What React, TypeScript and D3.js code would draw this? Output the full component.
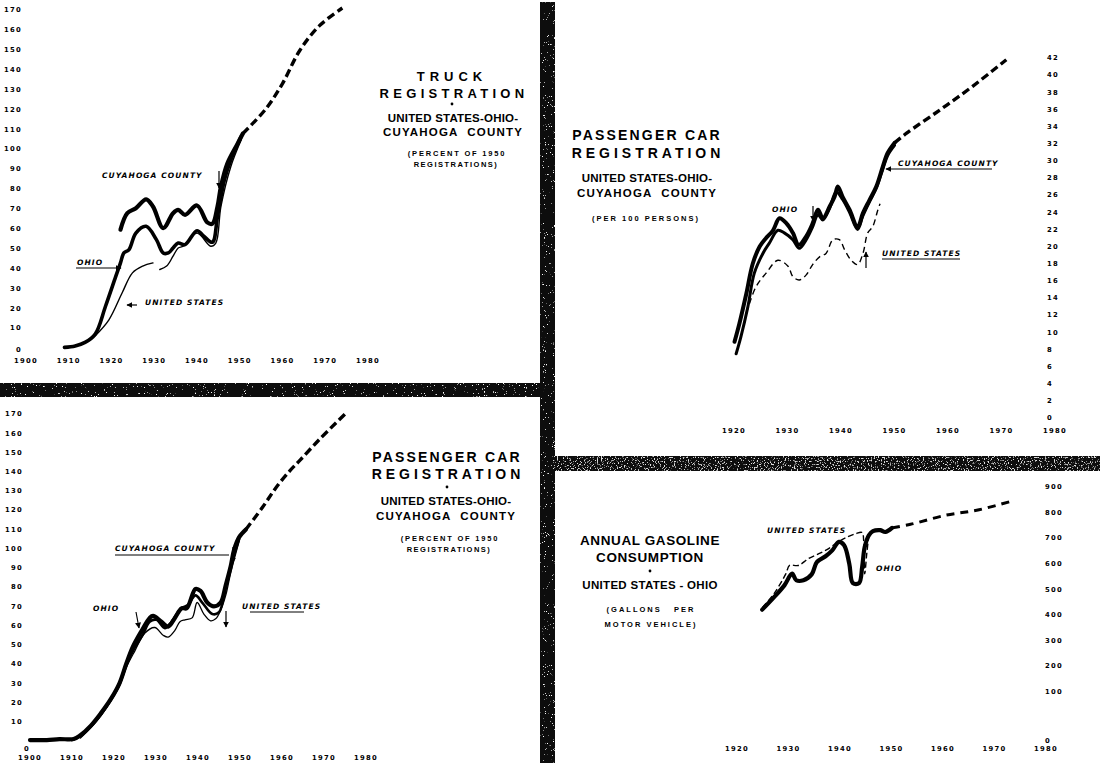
import React from 'react';
import * as d3 from 'd3';

type Pt = [number, number];

// truck registration, percent of 1950 registrations
const truckCuyahoga: Pt[] = [
  [1922.1, 59.5], [1923.7, 67.8], [1925.7, 70.3], [1928.1, 74.8], [1929.7, 71.2],
  [1932.1, 60.3], [1934.4, 67.8], [1935.6, 69.5], [1937.2, 67], [1940, 71.7],
  [1942.4, 63.2], [1943.6, 62.5], [1944.8, 71.2], [1945.6, 81.2], [1947.1, 92.8],
  [1949.5, 102.8], [1950.7, 107.8],
];
const truckOhio: Pt[] = [
  [1909, 0.3], [1911.5, 1], [1913.8, 2.8], [1916.2, 7], [1918.6, 21], [1921, 36],
  [1922.1, 42.8], [1922.9, 47.8], [1924.1, 49.5], [1925.7, 57.8], [1928.1, 61.2],
  [1930.5, 54.5], [1932.1, 47.8], [1933.3, 47.8], [1934.4, 50.3], [1935.6, 52.8],
  [1937.2, 52], [1940, 59], [1941.6, 56.2], [1943.6, 53.2], [1944.8, 66.2],
  [1946.4, 84.5], [1947.9, 94.5], [1950.3, 106.2],
];
const truckUS: Pt[] = [
  [1916.2, 6.2], [1919.4, 14.2], [1922.5, 27.8], [1924.9, 37.8], [1927.3, 41.2],
  [1929.7, 42.8], [1930.5, NaN], [1931.3, 39.5], [1932.9, 41.2], [1934.4, 46.2],
  [1935.6, 50.3], [1936.8, 51.2], [1940, 57.8], [1943.2, 51.2], [1944.4, 52.8],
  [1945.6, 71.2], [1947.9, 91.2], [1950.3, 104.5],
];
const truckProjection: Pt[] = [
  [1950.7, 107.8], [1956, 120], [1960, 133], [1964, 149.5], [1968.6, 162], [1974, 171],
];

// passenger cars per 100 persons
const perOhio: Pt[] = [
  [1920.1, 8.9], [1921, 11], [1922.3, 14.5], [1923.5, 18], [1924.8, 20], [1926, 21],
  [1927.3, 21.9], [1928.5, 23.3], [1929.8, 22.7], [1931, 21.6], [1932.1, 20.2],
  [1933.5, 21.2], [1934.7, 22.7], [1935.7, 24.3], [1936.6, 23.3], [1937.9, 24.7],
  [1938.8, 25.8], [1939.4, 27], [1940.3, 25.8], [1941.6, 24.3], [1943.1, 22.3],
  [1944.1, 23.9], [1945.3, 25.4], [1946.6, 27], [1947.8, 29.3], [1948.7, 30.9], [1950, 32.1],
];
const perCuyahoga: Pt[] = [
  [1920.4, 7.5], [1921.3, 9.5], [1922.6, 13], [1923.8, 16.9], [1925.4, 19.2],
  [1926.6, 20.4], [1928.2, 21.9], [1929.4, 21.6], [1931, 20.8], [1932.2, 19.8],
  [1933.5, 20.8], [1934.7, 22.3], [1935.7, 23.7], [1936.6, 23.1], [1937.9, 24.5],
  [1939.1, 26.4], [1940.3, 25.5], [1941.6, 24], [1943.1, 22], [1944.1, 23.6],
  [1945.3, 25.2], [1946.6, 26.8], [1947.8, 29], [1948.7, 30.6], [1950, 31.8],
];
const perUS: Pt[] = [
  [1922.3, 12.2], [1924.1, 15.3], [1926, 16.9], [1928.2, 18.4], [1930.1, 17.7],
  [1931, 16.5], [1932.2, 16.1], [1933.5, 16.7], [1934.7, 17.9], [1936, 18.8],
  [1937.2, 19.2], [1938.5, 20.8], [1939.7, 20.8], [1940.7, 19.6], [1941.9, 18.4],
  [1943.1, 17.9], [1944.1, 19.2], [1945, 21.6], [1945.9, 22.3], [1946.9, 24.3], [1947.3, 25],
];
const perProjection: Pt[] = [
  [1950, 32.1], [1952.2, 33.2], [1958.4, 35.9], [1964.6, 38.7], [1970.9, 41.8],
];

// passenger car registration, percent of 1950 registrations
const carCuyahoga: Pt[] = [
  [1900, 0.5], [1904, 0.5], [1907, 1], [1910.4, 1], [1912, 3], [1914.5, 8], [1916.9, 14.5],
  [1919.3, 22], [1921.3, 30], [1922.9, 40], [1924.5, 49], [1926.5, 57], [1928.5, 64],
  [1929.3, 65], [1931.3, 62], [1932.9, 59.5], [1934.5, 64], [1936.1, 69], [1937.3, 69],
  [1939.4, 79], [1940.6, 78], [1942.2, 72], [1943.8, 70], [1945.4, 72], [1946.6, 81],
  [1947.8, 91], [1948.6, 99.5], [1949.8, 106], [1951.4, 110],
];
const carOhio: Pt[] = [
  [1910, 0.5], [1912, 2.5], [1914.5, 7.5], [1917, 14], [1919.5, 22.5], [1921.5, 31],
  [1923, 40], [1924.8, 48], [1926.8, 55], [1928.5, 62], [1930.1, 63], [1932.1, 58.7],
  [1933.7, 62], [1936, 69], [1937.5, 70.5], [1939.4, 75.7], [1941, 72], [1943.4, 66],
  [1945, 67], [1946.6, 80], [1947.8, 91], [1949.8, 105],
];
const carUS: Pt[] = [
  [1912, 1.5], [1914.5, 7], [1917, 13.5], [1919.5, 21.5], [1921.5, 29.5], [1923, 38.5],
  [1925, 47], [1927.3, 56], [1929.7, 59], [1931.7, 55], [1932.9, 54], [1934.5, 57.5],
  [1935.7, 62], [1936.9, 63], [1938.6, 64], [1939.8, 72], [1941.4, 66], [1943, 62.5],
  [1944.2, 63.5], [1945.4, 68], [1946.6, 75.7], [1947.8, 87.6], [1949.8, 104],
];
const carProjection: Pt[] = [
  [1951.4, 110], [1955.4, 121.6], [1958.6, 131.8], [1961.8, 140.3], [1964.3, 146],
  [1969, 157], [1975, 170],
];

// annual gasoline consumption, gallons per motor vehicle
const gasOhio: Pt[] = [
  [1924.9, 420], [1927.2, 469], [1929.2, 515], [1930.7, 561], [1931.5, 535],
  [1932.9, 535], [1934.5, 558], [1935.5, 606], [1937.2, 629], [1938.5, 652],
  [1939.8, 685], [1940.8, 672], [1941.8, 600], [1942.5, 524], [1943.7, 524],
  [1944.3, 587], [1944.8, 665], [1945.6, 711], [1946.4, 727], [1947.8, 731],
  [1948.8, 724], [1950.1, 740],
];
const gasUS: Pt[] = [
  [1924.9, 428], [1927.2, 483], [1929.5, 561], [1930.2, 593], [1931.9, 593],
  [1933.9, 620], [1935.9, 639], [1937.8, 659], [1939.6, 685], [1941.5, 705],
  [1943, 717], [1944.3, 722], [1944.6, 690], [1944.8, 560], [1945.2, 640], [1945.6, 711],
];
const gasProjection: Pt[] = [
  [1950.1, 740], [1953.7, 754], [1960.4, 789], [1967, 811], [1973.9, 848],
];

const yearsFrom1900 = [1900, 1910, 1920, 1930, 1940, 1950, 1960, 1970, 1980];
const yearsFrom1920 = [1920, 1930, 1940, 1950, 1960, 1970, 1980];
const percentTicks = [0, 10, 20, 30, 40, 50, 60, 70, 80, 90, 100, 110, 120, 130, 140, 150, 160, 170];
const per100Ticks = [0, 2, 4, 6, 8, 10, 12, 14, 16, 18, 20, 22, 24, 26, 28, 30, 32, 34, 36, 38, 40, 42];
const gallonTicks = [0, 100, 200, 300, 400, 500, 600, 700, 800, 900];

const x1 = d3.scaleLinear().domain([1900, 1980]).range([26, 368]);
const y1 = d3.scaleLinear().domain([0, 170]).range([348, 10]);
const x2 = d3.scaleLinear().domain([1920, 1980]).range([734, 1055]);
const y2 = d3.scaleLinear().domain([0, 42]).range([418, 58]);
const x3 = d3.scaleLinear().domain([1900, 1980]).range([30, 366]);
const y3 = d3.scaleLinear().domain([0, 170]).range([741, 414]);
const x4 = d3.scaleLinear().domain([1920, 1980]).range([737, 1046]);
const y4 = d3.scaleLinear().domain([0, 900]).range([717, 487]);

const tickFont = { fontFamily: 'DejaVu Sans', fontWeight: 700, fontSize: 6.8, letterSpacing: 1.3 };
const noteFont = { fontFamily: 'DejaVu Sans', fontWeight: 700, fontStyle: 'italic', fontSize: 7.5, letterSpacing: 1.1 };
const titleFont = { fontFamily: 'Liberation Sans', fontWeight: 700 };

function path(data: Pt[], xs: d3.ScaleLinear<number, number>, ys: d3.ScaleLinear<number, number>) {
  return d3.line<Pt>()
    .defined((d) => !isNaN(d[1]))
    .x((d) => xs(d[0]))
    .y((d) => ys(d[1]))
    .curve(d3.curveCatmullRom.alpha(0.5))(data) || '';
}

const Line = ({ d, w, dash }: { d: string; w: number; dash?: string }) => (
  <path d={d} fill="none" stroke="#000" strokeWidth={w} strokeDasharray={dash}
    strokeLinejoin="round" strokeLinecap={dash ? 'butt' : 'round'} />
);

const Arrow = ({ x1, y1, x2, y2 }: { x1: number; y1: number; x2: number; y2: number }) => (
  <line x1={x1} y1={y1} x2={x2} y2={y2} stroke="#000" strokeWidth={1.2} markerEnd="url(#ah)" />
);

export default function App() {
  return (
    <div style={{ position: 'absolute', left: 0, top: 0, width: 1100, height: 763, background: '#fff' }}>
      <svg width={1100} height={763} viewBox="0 0 1100 763">
        <defs>
          <marker id="ah" viewBox="0 0 10 10" refX="9" refY="5" markerWidth="5" markerHeight="5" orient="auto">
            <path d="M0,0 L10,5 L0,10 z" fill="#000" />
          </marker>
          <filter id="grain" x="0" y="0" width="100%" height="100%">
            <feTurbulence type="fractalNoise" baseFrequency="0.9" numOctaves="2" seed="4" result="n" />
            <feColorMatrix in="n" type="matrix" values="0 0 0 0 1  0 0 0 0 1  0 0 0 0 1  12 0 0 0 -8.4" result="s" />
            <feComposite in="s" in2="SourceGraphic" operator="atop" />
          </filter>
          <filter id="grainHeavy" x="0" y="0" width="100%" height="100%">
            <feTurbulence type="fractalNoise" baseFrequency="0.7" numOctaves="2" seed="9" result="n" />
            <feColorMatrix in="n" type="matrix" values="0 0 0 0 0.75  0 0 0 0 0.75  0 0 0 0 0.75  8 0 0 0 -4.7" result="s" />
            <feComposite in="s" in2="SourceGraphic" operator="atop" />
          </filter>
        </defs>
        <rect width={1100} height={763} fill="#fff" />

        {/* dividing bars */}
        <rect x={0} y={383} width={550} height={14} fill="#0a0a0a" filter="url(#grain)" />
        <rect x={540} y={2} width={15} height={761} fill="#0a0a0a" filter="url(#grain)" />
        <rect x={553} y={456} width={547} height={15} fill="#111" filter="url(#grainHeavy)" />

        {/* ---------- truck registration ---------- */}
        <g>
          {percentTicks.map((t) => (
            <text key={t} x={22} y={t === 0 ? 352 : y1(t) + 2.3} textAnchor="end" style={tickFont}>{t}</text>
          ))}
          {yearsFrom1900.map((t) => (
            <text key={t} x={x1(t)} y={363} textAnchor="middle" style={tickFont}>{t}</text>
          ))}
          <Line d={path(truckUS, x1, y1)} w={1.4} />
          <Line d={path(truckOhio, x1, y1)} w={3.6} />
          <Line d={path(truckCuyahoga, x1, y1)} w={4.2} />
          <Line d={path(truckProjection, x1, y1)} w={3.4} dash="8,4" />
          <text x={102} y={178} style={noteFont}>CUYAHOGA COUNTY</text>
          <Arrow x1={219} y1={171} x2={219} y2={188} />
          <text x={77} y={265} style={noteFont}>OHIO</text>
          <Arrow x1={76} y1={268} x2={121} y2={268} />
          <text x={145} y={305} style={noteFont}>UNITED STATES</text>
          <Arrow x1={137} y1={305} x2={127} y2={305} />
          <g style={titleFont} textAnchor="middle">
            <text x={452} y={81} fontSize={13} letterSpacing={5}>TRUCK</text>
            <text x={454} y={98} fontSize={13} letterSpacing={4.3}>REGISTRATION</text>
            <circle cx={452} cy={104} r={1.4} />
            <text x={453} y={122} fontSize={11.5} letterSpacing={0.2}>UNITED STATES-OHIO-</text>
            <text x={453} y={136} fontSize={11.5} letterSpacing={1.2}>{'CUYAHOGA\u00a0\u00a0COUNTY'}</text>
            <text x={457} y={156} fontSize={7.5} letterSpacing={1.8}>(PERCENT OF 1950</text>
            <text x={456} y={167} fontSize={7.5} letterSpacing={1.5}>REGISTRATIONS)</text>
          </g>
        </g>

        {/* ---------- passenger cars per 100 persons ---------- */}
        <g>
          {per100Ticks.map((t) => (
            <text key={t} x={1047} y={y2(t) + 2.3} style={tickFont}>{t}</text>
          ))}
          {yearsFrom1920.map((t) => (
            <text key={t} x={x2(t)} y={433} textAnchor="middle" style={tickFont}>{t}</text>
          ))}
          <Line d={path(perUS, x2, y2)} w={1.4} dash="6,4" />
          <Line d={path(perCuyahoga, x2, y2)} w={3} />
          <Line d={path(perOhio, x2, y2)} w={4} />
          <Line d={path(perProjection, x2, y2)} w={3.4} dash="8,4" />
          <text x={772} y={212} style={noteFont}>OHIO</text>
          <Arrow x1={813} y1={206} x2={813} y2={221} />
          <text x={898} y={166} style={noteFont}>CUYAHOGA COUNTY</text>
          <Arrow x1={992} y1={169} x2={886} y2={169} />
          <text x={882} y={256} style={noteFont}>UNITED STATES</text>
          <line x1={882} y1={259} x2={960} y2={259} stroke="#000" strokeWidth={1} />
          <Arrow x1={866} y1={268} x2={866} y2={252} />
          <g style={titleFont} textAnchor="middle">
            <text x={647} y={140} fontSize={14} letterSpacing={2.2}>PASSENGER CAR</text>
            <text x={648} y={158} fontSize={14} letterSpacing={4}>REGISTRATION</text>
            <text x={647} y={182} fontSize={11.5} letterSpacing={0.2}>UNITED STATES-OHIO-</text>
            <text x={647} y={197} fontSize={11.5} letterSpacing={1.2}>{'CUYAHOGA\u00a0\u00a0COUNTY'}</text>
            <text x={646} y={221} fontSize={7.5} letterSpacing={2}>(PER 100 PERSONS)</text>
          </g>
        </g>

        {/* ---------- passenger car registration, percent ---------- */}
        <g>
          {percentTicks.map((t) => (
            <text key={t} x={t === 0 ? 30 : 23} y={t === 0 ? 751 : y3(t) + 2.3} textAnchor="end" style={tickFont}>{t}</text>
          ))}
          {yearsFrom1900.map((t) => (
            <text key={t} x={x3(t)} y={760} textAnchor="middle" style={tickFont}>{t}</text>
          ))}
          <Line d={path(carUS, x3, y3)} w={1.3} />
          <Line d={path(carOhio, x3, y3)} w={2.6} />
          <Line d={path(carCuyahoga, x3, y3)} w={4.2} />
          <Line d={path(carProjection, x3, y3)} w={3.4} dash="8,4" />
          <text x={115} y={551} style={noteFont}>CUYAHOGA COUNTY</text>
          <line x1={115} y1={555} x2={229} y2={555} stroke="#000" strokeWidth={1.2} />
          <Arrow x1={233} y1={547} x2={233} y2={563} />
          <text x={93} y={611} style={noteFont}>OHIO</text>
          <Arrow x1={136} y1={612} x2={139} y2={628} />
          <text x={242} y={609} style={noteFont}>UNITED STATES</text>
          <line x1={250} y1={612} x2={304} y2={612} stroke="#000" strokeWidth={1} />
          <Arrow x1={226} y1={611} x2={226} y2={627} />
          <g style={titleFont} textAnchor="middle">
            <text x={447} y={462} fontSize={14} letterSpacing={2.2}>PASSENGER CAR</text>
            <text x={448} y={479} fontSize={14} letterSpacing={4}>REGISTRATION</text>
            <circle cx={447} cy={487} r={1.4} />
            <text x={446} y={505} fontSize={11.5} letterSpacing={0.2}>UNITED STATES-OHIO-</text>
            <text x={446} y={520} fontSize={11.5} letterSpacing={1.2}>{'CUYAHOGA\u00a0\u00a0COUNTY'}</text>
            <text x={450} y={541} fontSize={7.5} letterSpacing={1.8}>(PERCENT OF 1950</text>
            <text x={449} y={552} fontSize={7.5} letterSpacing={1.5}>REGISTRATIONS)</text>
          </g>
        </g>

        {/* ---------- annual gasoline consumption ---------- */}
        <g>
          {gallonTicks.map((t) => (
            <text key={t} x={1045} y={t === 0 ? 743 : y4(t) + 2.3} style={tickFont}>{t}</text>
          ))}
          {yearsFrom1920.map((t) => (
            <text key={t} x={x4(t)} y={751} textAnchor="middle" style={tickFont}>{t}</text>
          ))}
          <Line d={path(gasUS, x4, y4)} w={1.4} dash="6,3" />
          <Line d={path(gasOhio, x4, y4)} w={4.2} />
          <Line d={path(gasProjection, x4, y4)} w={3} dash="8,6" />
          <text x={767} y={533} style={noteFont}>UNITED STATES</text>
          <text x={876} y={571} style={noteFont}>OHIO</text>
          <g style={titleFont} textAnchor="middle">
            <text x={650} y={545} fontSize={13.5} letterSpacing={0.6}>ANNUAL GASOLINE</text>
            <text x={650} y={562} fontSize={13.5} letterSpacing={0.6}>CONSUMPTION</text>
            <circle cx={650} cy={571} r={1.4} />
            <text x={650} y={589} fontSize={11.5} letterSpacing={0.3}>UNITED STATES - OHIO</text>
            <text x={651} y={612} fontSize={7.5} letterSpacing={2}>{'(GALLONS\u00a0\u00a0\u00a0PER'}</text>
            <text x={651} y={627} fontSize={7.5} letterSpacing={2}>MOTOR VEHICLE)</text>
          </g>
        </g>
      </svg>
    </div>
  );
}
